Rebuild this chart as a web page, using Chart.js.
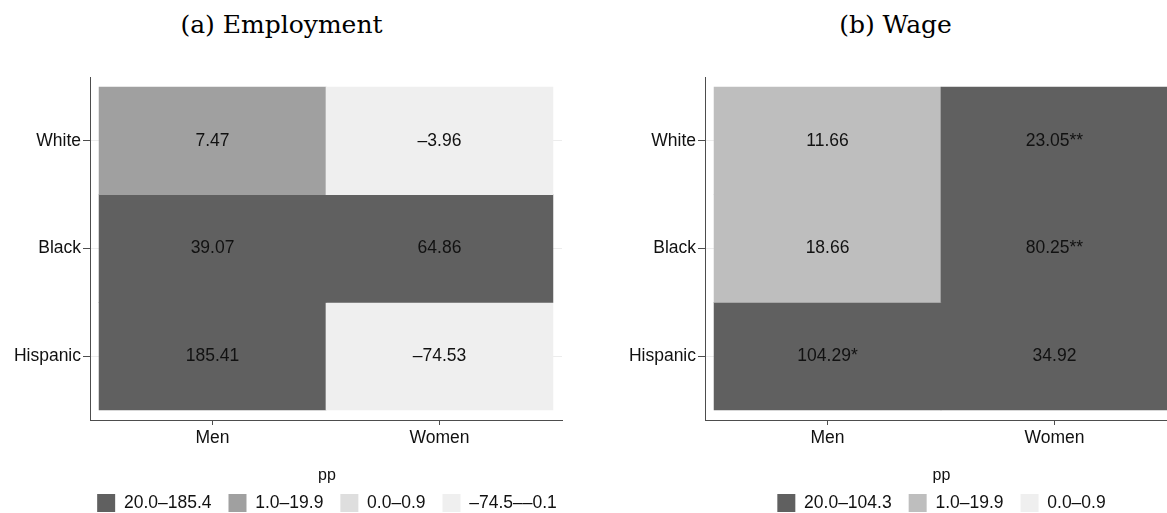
<!DOCTYPE html>
<html>
<head>
<meta charset="utf-8">
<script src="https://cdn.jsdelivr.net/npm/chart.js@4/dist/chart.umd.min.js"></script>
<style>
  html, body { margin: 0; padding: 0; background: #fff; overflow: hidden; width: 1167px; height: 513px; position: relative; }
  .panel-title { position: absolute; top: 10px; height: 30px; line-height: 30px; font-family: 'DejaVu Serif', serif; font-size: 25px; color: #000; text-align: center; white-space: nowrap; }
  canvas { position: absolute; top: 0; }
</style>
</head>
<body>
<div class="panel-title" style="left:0; width:563px;">(a) Employment</div>
<div class="panel-title" style="left:613px; width:565px;">(b) Wage</div>
<canvas id="emp" width="654" height="522" style="left:0;"></canvas>
<canvas id="wage" width="657" height="522" style="left:613px;"></canvas>
<script>
// Rows and columns of both grids
const races = ['White', 'Black', 'Hispanic'];
const sexes = ['Men', 'Women'];

// Employment effects (pp), one value per race
const empMen = [7.47, 39.07, 185.41];
const empWomen = [-3.96, 64.86, -74.53];
const empMenStars = ['', '', ''];
const empWomenStars = ['', '', ''];

// Wage effects (pp), one value per race
const wageMen = [11.66, 18.66, 104.29];
const wageWomen = [23.05, 80.25, 34.92];
const wageMenStars = ['', '', '*'];
const wageWomenStars = ['**', '**', ''];

// Legend classes and their lower bounds (last class takes everything below)
const empBinLabels = ['20.0–185.4', '1.0–19.9', '0.0–0.9', '–74.5––0.1'];
const empBinFloors = [20, 1, 0];
const wageBinLabels = ['20.0–104.3', '1.0–19.9', '0.0–0.9'];
const wageBinFloors = [20, 1, 0];

// Grey ramps for the classes
const empPalette = ['#606060', '#a0a0a0', '#dedede', '#efefef'];
const wagePalette = ['#606060', '#bebebe', '#efefef'];

const FONT = "'Liberation Sans', Arial, Helvetica, sans-serif";
const TEXT = '#111111';
const AXIS = '#4d4d4d';

function binOf(v, floors) {
  for (let k = 0; k < floors.length; k++) if (v >= floors[k]) return k;
  return floors.length;
}

function fmt(v) {
  return v.toFixed(2).replace('-', '\u2013');
}

// Writes each cell's value in the middle of its bar
const cellLabels = {
  id: 'cellLabels',
  afterDatasetsDraw(chart) {
    const ctx = chart.ctx;
    ctx.save();
    ctx.font = '17.5px ' + FONT;
    ctx.fillStyle = TEXT;
    ctx.textAlign = 'center';
    ctx.textBaseline = 'middle';
    chart.data.datasets.forEach((ds, i) => {
      chart.getDatasetMeta(i).data.forEach((bar, j) => {
        const p = bar.getProps(['x', 'y', 'base'], true);
        ctx.fillText(ds.cellText[j], p.x, (p.y + p.base) / 2);
      });
    });
    ctx.restore();
  }
};

function heatPanel(id, cols, colStars, binLabels, binFloors, palette, leftWidth, rightWidth) {
  const datasets = races.map((race, r) => ({
    label: race,
    yAxisID: 'y',
    data: sexes.map((s, c) => ({ x: c + 0.5, y: [r, r + 1] })),
    backgroundColor: sexes.map((s, c) => palette[binOf(cols[c][r], binFloors)]),
    cellText: sexes.map((s, c) => fmt(cols[c][r]) + colStars[c][r]),
    grouped: false,
    barPercentage: 1,
    categoryPercentage: 1,
    borderWidth: 0
  }));

  return new Chart(document.getElementById(id), {
    type: 'bar',
    data: { datasets },
    plugins: [cellLabels],
    options: {
      responsive: false,
      animation: false,
      devicePixelRatio: 1,
      layout: { padding: { top: 77, left: 0, right: 0, bottom: 0 } },
      plugins: {
        tooltip: { enabled: false },
        legend: {
          position: 'bottom',
          align: 'center',
          onClick: null,
          labels: {
            boxWidth: 18,
            boxHeight: 18,
            padding: 17,
            color: TEXT,
            font: { family: FONT, size: 17.5 },
            generateLabels: () => binLabels.map((t, k) => ({
              text: t,
              fillStyle: palette[k],
              strokeStyle: palette[k],
              lineWidth: 0,
              hidden: false,
              fontColor: TEXT
            }))
          },
          title: {
            display: true,
            text: 'pp',
            color: TEXT,
            font: { family: FONT, size: 16, lineHeight: 1.2 },
            padding: { top: 0, bottom: -10.2 }
          }
        }
      },
      scales: {
        x: {
          type: 'linear',
          bounds: 'data',
          offset: false,
          min: -0.04,
          max: 2.04,
          afterBuildTicks: s => { s.ticks = sexes.map((_, i) => ({ value: i + 0.5 })); },
          afterFit: s => { s.height = 48; },
          ticks: {
            callback: (v, i) => sexes[i],
            color: TEXT,
            font: { family: FONT, size: 17.5 },
            padding: 3,
            maxRotation: 0
          },
          grid: { offset: false, drawOnChartArea: false, tickLength: 5, tickColor: AXIS, tickWidth: 1 },
          border: { color: AXIS, width: 1 }
        },
        y: {
          type: 'linear',
          position: 'left',
          reverse: true,
          bounds: 'data',
          min: -0.093,
          max: 3.093,
          afterBuildTicks: s => { s.ticks = races.map((_, i) => ({ value: i + 0.5 })); },
          afterFit: s => { s.width = leftWidth; },
          ticks: {
            callback: (v, i) => races[i],
            color: TEXT,
            font: { family: FONT, size: 17.5 },
            padding: 2
          },
          grid: { color: '#ececec', lineWidth: 1, tickLength: 7, tickColor: AXIS, tickWidth: 1 },
          border: { color: AXIS, width: 1 }
        },
        yr: {
          type: 'linear',
          position: 'right',
          display: true,
          afterFit: s => { s.width = rightWidth; },
          ticks: { display: false },
          grid: { display: false, drawTicks: false },
          border: { display: false }
        }
      }
    }
  });
}

heatPanel('emp', [empMen, empWomen], [empMenStars, empWomenStars],
  empBinLabels, empBinFloors, empPalette, 90, 92);
heatPanel('wage', [wageMen, wageWomen], [wageMenStars, wageWomenStars],
  wageBinLabels, wageBinFloors, wagePalette, 92, 93);
</script>
</body>
</html>
